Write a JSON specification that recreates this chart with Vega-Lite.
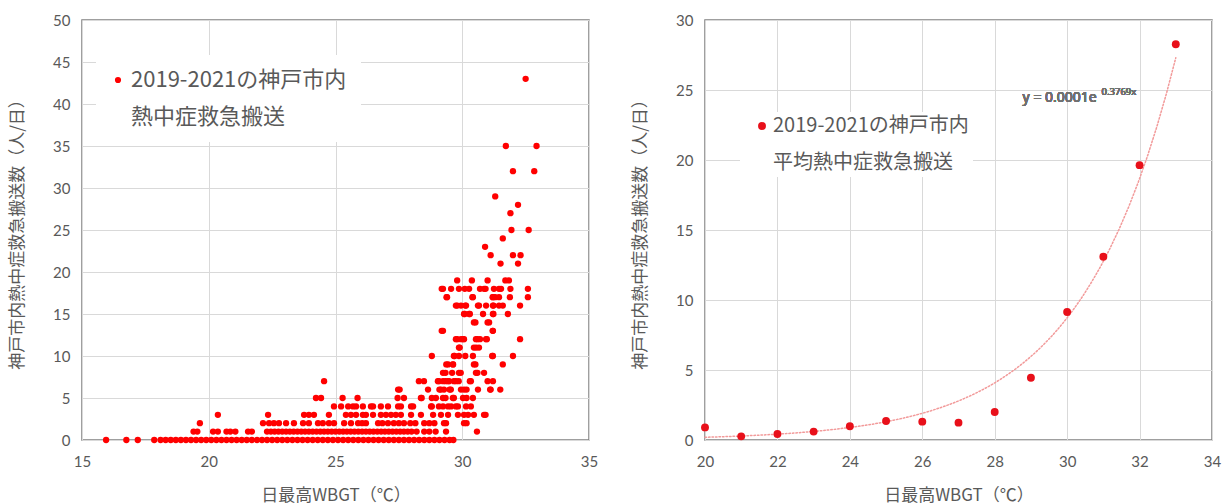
{
  "$schema": "https://vega.github.io/schema/vega-lite/v6.json",
  "background": "white",
  "padding": {"left": 7, "top": 12, "right": 2, "bottom": 0},
  "spacing": 31,
  "resolve": {"scale": {"color": "independent"}, "legend": {"color": "independent"}},
  "config": {
    "view": {"stroke": "#808080", "strokeWidth": 1.5},
    "font": "Noto Sans CJK JP",
    "axis": {"gridColor": "#d9d9d9", "gridWidth": 1, "domain": false, "ticks": false, "labelFlush": false, "labelOverlap": false, "labelColor": "#595959", "labelFont": "Lato", "labelFontSize": 15, "titleColor": "#595959", "titleFont": "Noto Sans CJK JP", "titleFontWeight": "normal"},
    "axisY": {"labelPadding": 12, "titlePadding": 26, "titleFontSize": 17},
    "axisX": {"labelPadding": 14, "titlePadding": 18, "titleFontSize": 17},
    "legend": {"orient": "none", "fillColor": "white", "labelColor": "#595959", "labelFont": "Noto Sans CJK JP", "symbolType": "circle", "labelLimit": 400, "title": null},
    "style": {"guide-label": {"lineHeight": 37}}
  },
  "hconcat": [
    {
      "width": 507,
      "height": 420,
      "data": {"values": [
        {"t":15.95,"n":0},{"t":16.75,"n":0},{"t":17.2,"n":0},{"t":17.85,"n":0},{"t":18.1,"n":0},{"t":18.3,"n":0},{"t":18.5,"n":0},{"t":18.7,"n":0},{"t":18.9,"n":0},{"t":19.1,"n":0},{"t":19.3,"n":0},{"t":19.5,"n":0},{"t":19.7,"n":0},{"t":19.9,"n":0},{"t":20.1,"n":0},{"t":20.3,"n":0},{"t":20.5,"n":0},{"t":20.7,"n":0},{"t":20.9,"n":0},{"t":21.1,"n":0},{"t":21.3,"n":0},{"t":21.5,"n":0},{"t":21.7,"n":0},{"t":21.9,"n":0},{"t":22.1,"n":0},{"t":22.3,"n":0},{"t":22.5,"n":0},{"t":22.7,"n":0},{"t":22.9,"n":0},{"t":23.1,"n":0},{"t":23.3,"n":0},{"t":23.5,"n":0},{"t":23.7,"n":0},{"t":23.9,"n":0},{"t":24.1,"n":0},{"t":24.3,"n":0},{"t":24.5,"n":0},{"t":24.7,"n":0},{"t":24.9,"n":0},{"t":25.1,"n":0},{"t":25.3,"n":0},{"t":25.5,"n":0},{"t":25.7,"n":0},{"t":25.9,"n":0},{"t":26.1,"n":0},{"t":26.3,"n":0},{"t":26.5,"n":0},{"t":26.7,"n":0},{"t":26.9,"n":0},{"t":27.1,"n":0},{"t":27.3,"n":0},{"t":27.5,"n":0},{"t":27.7,"n":0},{"t":27.9,"n":0},{"t":28.1,"n":0},{"t":28.3,"n":0},{"t":28.5,"n":0},{"t":28.7,"n":0},{"t":28.9,"n":0},{"t":29.1,"n":0},{"t":29.3,"n":0},{"t":29.5,"n":0},{"t":29.65,"n":0},
        {"t":19.4,"n":1},{"t":19.55,"n":1},{"t":20.17,"n":1},{"t":20.36,"n":1},{"t":20.7,"n":1},{"t":20.85,"n":1},{"t":21.05,"n":1},{"t":21.55,"n":1},{"t":21.7,"n":1},{"t":22.3,"n":1},{"t":22.45,"n":1},{"t":22.6,"n":1},{"t":22.75,"n":1},{"t":22.9,"n":1},{"t":23.05,"n":1},{"t":23.2,"n":1},{"t":23.35,"n":1},{"t":23.5,"n":1},{"t":23.65,"n":1},{"t":23.8,"n":1},{"t":23.95,"n":1},{"t":24.1,"n":1},{"t":24.25,"n":1},{"t":24.4,"n":1},{"t":24.55,"n":1},{"t":24.7,"n":1},{"t":24.85,"n":1},{"t":25.0,"n":1},{"t":25.15,"n":1},{"t":25.3,"n":1},{"t":25.45,"n":1},{"t":25.6,"n":1},{"t":25.75,"n":1},{"t":25.9,"n":1},{"t":26.05,"n":1},{"t":26.2,"n":1},{"t":26.35,"n":1},{"t":26.5,"n":1},{"t":26.65,"n":1},{"t":26.8,"n":1},{"t":26.95,"n":1},{"t":27.1,"n":1},{"t":27.25,"n":1},{"t":27.4,"n":1},{"t":27.55,"n":1},{"t":27.7,"n":1},{"t":27.85,"n":1},{"t":28.0,"n":1},{"t":28.2,"n":1},{"t":28.5,"n":1},{"t":28.7,"n":1},{"t":28.95,"n":1},{"t":29.36,"n":1},{"t":30.58,"n":1},
        {"t":19.65,"n":2},{"t":22.14,"n":2},{"t":22.38,"n":2},{"t":22.57,"n":2},{"t":22.77,"n":2},{"t":23.05,"n":2},{"t":23.36,"n":2},{"t":23.72,"n":2},{"t":23.95,"n":2},{"t":24.31,"n":2},{"t":24.5,"n":2},{"t":24.74,"n":2},{"t":24.94,"n":2},{"t":25.34,"n":2},{"t":25.61,"n":2},{"t":25.89,"n":2},{"t":26.05,"n":2},{"t":26.2,"n":2},{"t":26.68,"n":2},{"t":26.85,"n":2},{"t":27.07,"n":2},{"t":27.3,"n":2},{"t":27.5,"n":2},{"t":27.7,"n":2},{"t":27.95,"n":2},{"t":28.15,"n":2},{"t":28.5,"n":2},{"t":28.7,"n":2},{"t":28.9,"n":2},{"t":29.28,"n":2},{"t":29.36,"n":2},{"t":30.07,"n":2},{"t":30.17,"n":2},
        {"t":20.36,"n":3},{"t":22.34,"n":3},{"t":23.76,"n":3},{"t":23.95,"n":3},{"t":24.15,"n":3},{"t":24.74,"n":3},{"t":25.41,"n":3},{"t":25.61,"n":3},{"t":25.81,"n":3},{"t":26.08,"n":3},{"t":26.2,"n":3},{"t":26.48,"n":3},{"t":26.79,"n":3},{"t":26.99,"n":3},{"t":27.19,"n":3},{"t":27.38,"n":3},{"t":27.58,"n":3},{"t":27.98,"n":3},{"t":28.37,"n":3},{"t":28.85,"n":3},{"t":29.16,"n":3},{"t":29.44,"n":3},{"t":29.83,"n":3},{"t":30.07,"n":3},{"t":30.23,"n":3},{"t":30.46,"n":3},{"t":30.86,"n":3},{"t":30.92,"n":3},
        {"t":24.94,"n":4},{"t":25.22,"n":4},{"t":25.5,"n":4},{"t":25.69,"n":4},{"t":25.81,"n":4},{"t":26.08,"n":4},{"t":26.4,"n":4},{"t":26.48,"n":4},{"t":26.79,"n":4},{"t":27.07,"n":4},{"t":27.47,"n":4},{"t":27.58,"n":4},{"t":27.98,"n":4},{"t":28.06,"n":4},{"t":28.77,"n":4},{"t":28.8,"n":4},{"t":29.08,"n":4},{"t":29.24,"n":4},{"t":29.44,"n":4},{"t":29.56,"n":4},{"t":29.75,"n":4},{"t":29.83,"n":4},{"t":30.15,"n":4},{"t":30.34,"n":4},
        {"t":24.23,"n":5},{"t":24.43,"n":5},{"t":25.28,"n":5},{"t":25.87,"n":5},{"t":27.45,"n":5},{"t":27.7,"n":5},{"t":28.37,"n":5},{"t":28.4,"n":5},{"t":28.8,"n":5},{"t":28.96,"n":5},{"t":29.24,"n":5},{"t":29.34,"n":5},{"t":29.63,"n":5},{"t":29.67,"n":5},{"t":30.03,"n":5},{"t":30.17,"n":5},{"t":30.42,"n":5},
        {"t":27.47,"n":6},{"t":27.53,"n":6},{"t":28.65,"n":6},{"t":29.1,"n":6},{"t":29.16,"n":6},{"t":29.28,"n":6},{"t":29.5,"n":6},{"t":29.55,"n":6},{"t":29.95,"n":6},{"t":30.07,"n":6},{"t":30.17,"n":6},{"t":30.62,"n":6},{"t":31.1,"n":6},{"t":31.12,"n":6},{"t":31.5,"n":6},
        {"t":24.55,"n":7},{"t":28.29,"n":7},{"t":28.49,"n":7},{"t":29.04,"n":7},{"t":29.08,"n":7},{"t":29.24,"n":7},{"t":29.34,"n":7},{"t":29.44,"n":7},{"t":29.48,"n":7},{"t":29.67,"n":7},{"t":29.75,"n":7},{"t":29.86,"n":7},{"t":30.3,"n":7},{"t":30.34,"n":7},{"t":31.0,"n":7},{"t":31.21,"n":7},
        {"t":29.24,"n":8},{"t":29.34,"n":8},{"t":29.6,"n":8},{"t":29.87,"n":8},{"t":29.94,"n":8},{"t":30.54,"n":8},{"t":30.6,"n":8},{"t":30.86,"n":8},
        {"t":29.37,"n":9},{"t":29.44,"n":9},{"t":29.63,"n":9},{"t":29.64,"n":9},{"t":30.46,"n":9},{"t":30.52,"n":9},{"t":31.6,"n":9},
        {"t":28.8,"n":10},{"t":29.67,"n":10},{"t":29.7,"n":10},{"t":29.87,"n":10},{"t":30.12,"n":10},{"t":30.42,"n":10},{"t":31.18,"n":10},{"t":31.21,"n":10},{"t":32.0,"n":10},
        {"t":29.87,"n":11},{"t":29.9,"n":11},{"t":30.46,"n":11},{"t":30.55,"n":11},{"t":30.66,"n":11},
        {"t":29.75,"n":12},{"t":29.8,"n":12},{"t":29.95,"n":12},{"t":30.03,"n":12},{"t":30.07,"n":12},{"t":30.54,"n":12},{"t":30.6,"n":12},{"t":30.7,"n":12},{"t":30.94,"n":12},{"t":30.97,"n":12},{"t":32.28,"n":12},
        {"t":29.19,"n":13},{"t":29.24,"n":13},{"t":31.2,"n":13},{"t":31.21,"n":13},
        {"t":30.46,"n":14},{"t":30.52,"n":14},{"t":31.0,"n":14},{"t":31.06,"n":14},
        {"t":30.07,"n":15},{"t":30.1,"n":15},{"t":30.27,"n":15},{"t":30.3,"n":15},{"t":30.82,"n":15},{"t":31.21,"n":15},{"t":31.23,"n":15},{"t":31.8,"n":15},
        {"t":29.75,"n":16},{"t":29.8,"n":16},{"t":29.95,"n":16},{"t":30.12,"n":16},{"t":30.15,"n":16},{"t":30.62,"n":16},{"t":30.66,"n":16},{"t":30.94,"n":16},{"t":31.21,"n":16},{"t":31.23,"n":16},{"t":31.45,"n":16},{"t":31.6,"n":16},{"t":32.28,"n":16},
        {"t":29.38,"n":17},{"t":29.4,"n":17},{"t":30.4,"n":17},{"t":30.42,"n":17},{"t":31.2,"n":17},{"t":31.21,"n":17},{"t":31.3,"n":17},{"t":31.45,"n":17},{"t":31.88,"n":17},{"t":32.59,"n":17},
        {"t":29.19,"n":18},{"t":29.24,"n":18},{"t":29.56,"n":18},{"t":29.87,"n":18},{"t":30.1,"n":18},{"t":30.27,"n":18},{"t":30.7,"n":18},{"t":30.86,"n":18},{"t":30.92,"n":18},{"t":31.25,"n":18},{"t":31.45,"n":18},{"t":31.53,"n":18},{"t":31.9,"n":18},{"t":32.59,"n":18},
        {"t":29.8,"n":19},{"t":30.38,"n":19},{"t":31.0,"n":19},{"t":31.7,"n":19},{"t":31.84,"n":19},
        {"t":31.51,"n":21},{"t":32.2,"n":21},
        {"t":31.12,"n":22},{"t":32.0,"n":22},{"t":32.3,"n":22},
        {"t":30.9,"n":23},{"t":31.6,"n":24},{"t":31.94,"n":25},{"t":32.62,"n":25},{"t":31.9,"n":27},{"t":32.2,"n":28},{"t":31.3,"n":29},
        {"t":32.0,"n":32},{"t":32.84,"n":32},{"t":31.72,"n":35},{"t":32.93,"n":35},{"t":32.5,"n":43}
      ]},
      "mark": {"type": "circle", "size": 40, "opacity": 1},
      "encoding": {
        "x": {"field": "t", "type": "quantitative", "scale": {"domain": [15, 35], "nice": false, "zero": false}, "axis": {"values": [15, 20, 25, 30, 35], "title": "日最高WBGT（℃）"}},
        "y": {"field": "n", "type": "quantitative", "scale": {"domain": [0, 50], "nice": false}, "axis": {"values": [0, 5, 10, 15, 20, 25, 30, 35, 40, 45, 50], "title": "神戸市内熱中症救急搬送数（人/日）"}},
        "color": {
          "datum": "2019-2021の神戸市内|熱中症救急搬送",
          "scale": {"range": ["#ff0000"]},
          "legend": {"legendX": 14, "legendY": 35, "padding": 14, "labelFontSize": 22, "symbolSize": 38, "symbolOffset": -3, "labelOffset": 2, "labelExpr": "split(datum.label, '|')"}
        }
      }
    },
    {
      "width": 507,
      "height": 420,
      "data": {"values": [
        {"wbgt": 20, "avg": 0.9},
        {"wbgt": 21, "avg": 0.26},
        {"wbgt": 22, "avg": 0.43},
        {"wbgt": 23, "avg": 0.6},
        {"wbgt": 24, "avg": 0.98},
        {"wbgt": 25, "avg": 1.36},
        {"wbgt": 26, "avg": 1.31},
        {"wbgt": 27, "avg": 1.24},
        {"wbgt": 28, "avg": 2.0},
        {"wbgt": 29, "avg": 4.45},
        {"wbgt": 30, "avg": 9.14},
        {"wbgt": 31, "avg": 13.09},
        {"wbgt": 32, "avg": 19.63},
        {"wbgt": 33, "avg": 28.27}
      ]},
      "layer": [
        {
          "transform": [{"regression": "avg", "on": "wbgt", "method": "exp", "extent": [20, 33]}],
          "mark": {"type": "line", "color": "#f29a9a", "strokeDash": [1.5, 2], "strokeWidth": 1.5, "strokeCap": "round"},
          "encoding": {
            "x": {"field": "wbgt", "type": "quantitative"},
            "y": {"field": "avg", "type": "quantitative"}
          }
        },
        {
          "mark": {"type": "circle", "size": 62, "opacity": 1},
          "encoding": {
            "x": {"field": "wbgt", "type": "quantitative", "scale": {"domain": [20, 34], "nice": false, "zero": false}, "axis": {"values": [20, 22, 24, 26, 28, 30, 32, 34], "title": "日最高WBGT（℃）"}},
            "y": {"field": "avg", "type": "quantitative", "scale": {"domain": [0, 30], "nice": false}, "axis": {"values": [0, 5, 10, 15, 20, 25, 30], "title": "神戸市内熱中症救急搬送数（人/日）"}},
            "color": {
              "datum": "2019-2021の神戸市内|平均熱中症救急搬送",
              "scale": {"range": ["#e8101a"]},
              "legend": {"legendX": 35, "legendY": 92, "padding": 4, "labelFontSize": 20, "symbolSize": 62, "symbolOffset": 8, "labelOffset": 1, "labelExpr": "split(datum.label, '|')"}
            }
          }
        },
        {
          "mark": {"type": "text", "align": "left", "baseline": "middle", "font": "Noto Sans", "fontWeight": "normal", "fontSize": 14, "color": "#707070"},
          "encoding": {
            "x": {"datum": 28.77, "type": "quantitative"},
            "y": {"datum": 24.43, "type": "quantitative"},
            "text": {"value": "y = 0.0001e"}
          }
        },
        {
          "mark": {"type": "text", "align": "left", "baseline": "middle", "font": "Noto Sans", "fontWeight": "normal", "fontSize": 9.5, "color": "#707070"},
          "encoding": {
            "x": {"datum": 30.95, "type": "quantitative"},
            "y": {"datum": 24.86, "type": "quantitative"},
            "text": {"value": "0.3769x"}
          }
        }
      ]
    }
  ]
}
